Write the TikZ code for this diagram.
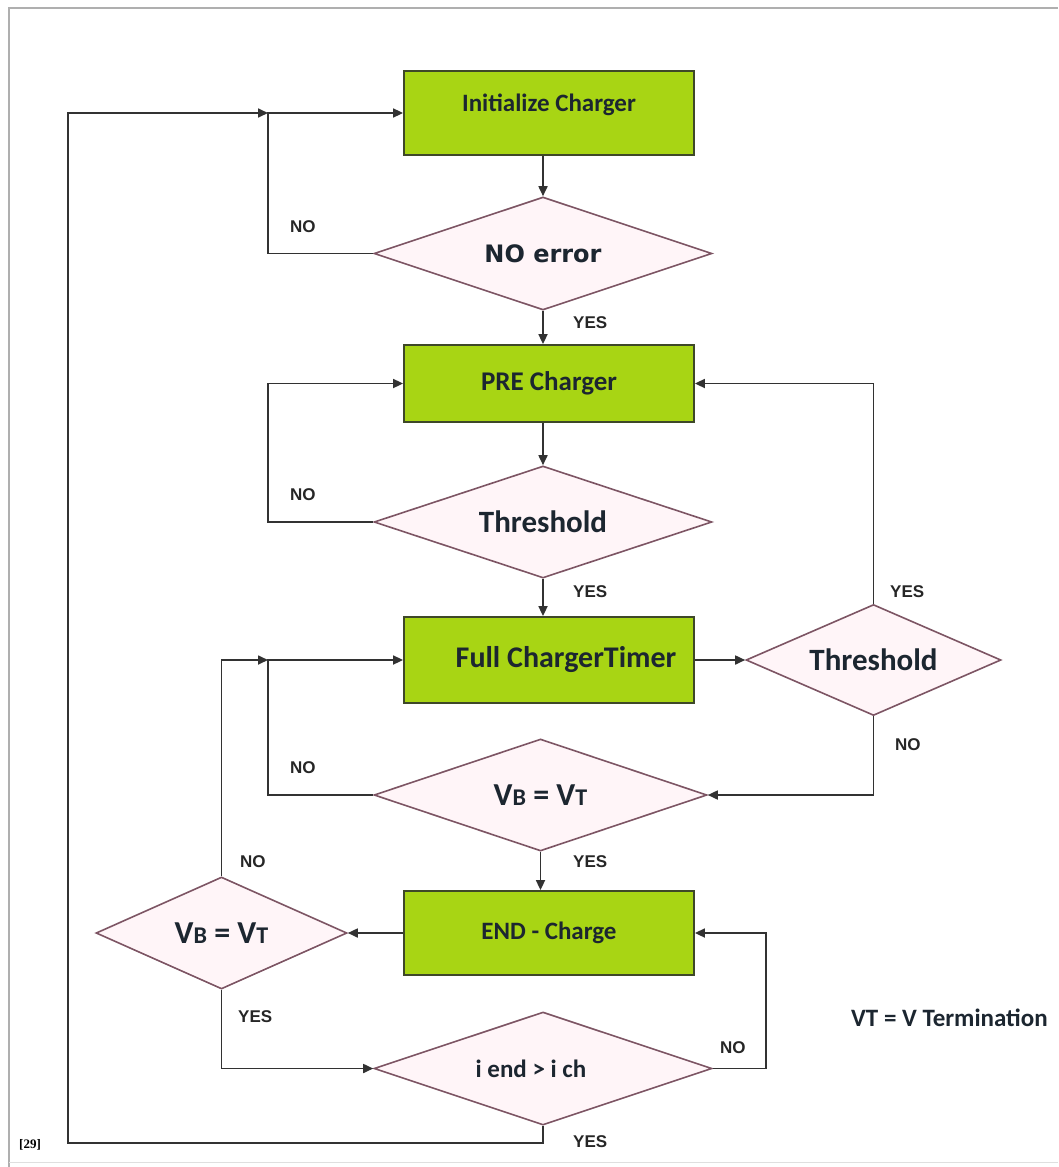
\documentclass[tikz,border=0pt]{standalone}
\usepackage{fontspec}
\setmainfont{Carlito}
\newfontfamily\arialf{Liberation Sans}
\newfontfamily\timesf{Liberation Serif}
\newfontfamily\dejavuf{DejaVu Sans}
\usetikzlibrary{shapes.geometric,arrows.meta}
\definecolor{boxgreen}{RGB}{168,213,20}
\definecolor{boxline}{RGB}{62,72,40}
\definecolor{dmfill}{RGB}{255,245,248}
\definecolor{dmline}{RGB}{125,85,100}
\definecolor{txtdark}{RGB}{28,38,48}
\definecolor{linec}{RGB}{50,50,50}
\definecolor{framec}{RGB}{175,175,175}
\tikzset{
  procbox/.style={rectangle, draw=boxline, line width=1.8pt, fill=boxgreen,
    minimum width=290pt, inner sep=0pt, font=\bfseries, text=txtdark},
  decis/.style={diamond, draw=dmline, line width=1.6pt, fill=dmfill,
    inner sep=0pt, aspect=3, font=\bfseries, text=txtdark},
  conn/.style={draw=linec, line width=1.7pt},
  arr/.style={conn, -{Triangle[length=10pt,width=9pt]}},
  lbl/.style={font=\arialf\bfseries\fontsize{17}{17}\selectfont, text=black!85, anchor=west, inner sep=0pt},
}
\newcommand{\vbvt}[2]{{\fontsize{#1}{#1}\selectfont V}{\fontsize{#2}{#2}\selectfont B}{\fontsize{#1}{#1}\selectfont\ = V}{\fontsize{#2}{#2}\selectfont T}}
\begin{document}
\begin{tikzpicture}[x=1pt,y=-1pt]
\useasboundingbox (0,0) rectangle (1058,1167);
% frame
\draw[framec, line width=2pt] (9,1167) -- (9,8) -- (1058,8);
\draw[framec!40, line width=1pt] (9,1162) -- (1058,1162);

% process boxes
\node[procbox, minimum height=84pt, text depth=20pt, font=\bfseries\fontsize{25}{25}\selectfont] (init) at (549,113) {Initialize Charger};
\node[procbox, minimum height=77pt, font=\bfseries\fontsize{27}{27}\selectfont] (pre) at (549,383.5) {PRE Charger};
\node[procbox, minimum height=86pt, font=\bfseries\fontsize{30}{30}\selectfont] (full) at (549,660) {\hspace*{34pt}Full ChargerTimer};
\node[procbox, minimum height=84pt, font=\bfseries\fontsize{25}{25}\selectfont] (endc) at (549,933) {END - Charge};

% decisions
\node[decis, minimum width=338pt, minimum height=113pt, font=\dejavuf\bfseries\fontsize{24}{24}\selectfont] (d1) at (543,253.5) {NO error};
\node[decis, minimum width=338pt, minimum height=112pt, font=\bfseries\fontsize{31}{31}\selectfont] (d2) at (543,522) {Threshold};
\node[decis, minimum width=255pt, minimum height=111pt, font=\bfseries\fontsize{31}{31}\selectfont] (d3) at (873.5,660) {Threshold};
\node[decis, minimum width=333pt, minimum height=112pt] (d4) at (540.5,795) {\vbvt{32}{24}};
\node[decis, minimum width=251pt, minimum height=112pt] (d5) at (221.5,933) {\vbvt{32}{24}};
\node[decis, minimum width=338pt, minimum height=113pt, font=\bfseries\fontsize{25}{25}\selectfont] (d6) at (543,1068.5) {\hspace*{-24pt}i end > i ch};

% helper coordinates
\coordinate (j1) at (268,113);
\coordinate (c2) at (268,383.5);
\coordinate (j2) at (268,660);
\coordinate (c6) at (766,933);
\coordinate (c7) at (543,1143);
\coordinate (c8) at (68,113);

% connectors
\draw[arr] (d1.north |- init.south) -- (d1.north);
\draw[arr] (d1.south) -- (d1.south |- pre.north);
\draw[arr] (d1.west) -| (j1) -- (init.west);
\draw[arr] (d2.north |- pre.south) -- (d2.north);
\draw[arr] (d2.south) -- (d2.south |- full.north);
\draw[arr] (d2.west) -| (c2) -- (pre.west);
\draw[arr] (full.east) -- (d3.west);
\draw[arr] (d3.north) |- (pre.east);
\draw[arr] (d3.south) |- (d4.east);
\draw[arr] (d4.west) -| (j2) -- (full.west);
\draw[arr] (d5.north) |- (j2);
\draw[arr] (d4.south) -- (d4.south |- endc.north);
\draw[arr] (endc.west) -- (d5.east);
\draw[arr] (d5.south) |- (d6.west);
\draw[arr] (d6.east) -| (c6) -- (endc.east);
\draw[arr] (d6.south) -- (c7) -| (c8) -- (j1);

% labels
\node[lbl] (n1) at (290,227) {NO};
\node[lbl] (y1) at (573,323) {YES};
\node[lbl] (n2) at (290,495) {NO};
\node[lbl] (y2) at (573,592) {YES};
\node[lbl] (y3) at (890,592) {YES};
\node[lbl] (n3) at (895,745) {NO};
\node[lbl] (n4) at (290,768) {NO};
\node[lbl] (y4) at (573,862) {YES};
\node[lbl] (n5) at (240,862) {NO};
\node[lbl] (y5) at (238,1017) {YES};
\node[lbl] (n6) at (720,1048) {NO};
\node[lbl] (y6) at (573,1142) {YES};

\node[anchor=west, inner sep=0pt, font=\bfseries\fontsize{25}{25}\selectfont, text=txtdark] (vt) at (851,1018) {VT = V Termination};
\node[anchor=west, inner sep=0pt, font=\timesf\bfseries\fontsize{13}{13}\selectfont] (ref) at (19,1145) {[29]};
\end{tikzpicture}
\end{document}
